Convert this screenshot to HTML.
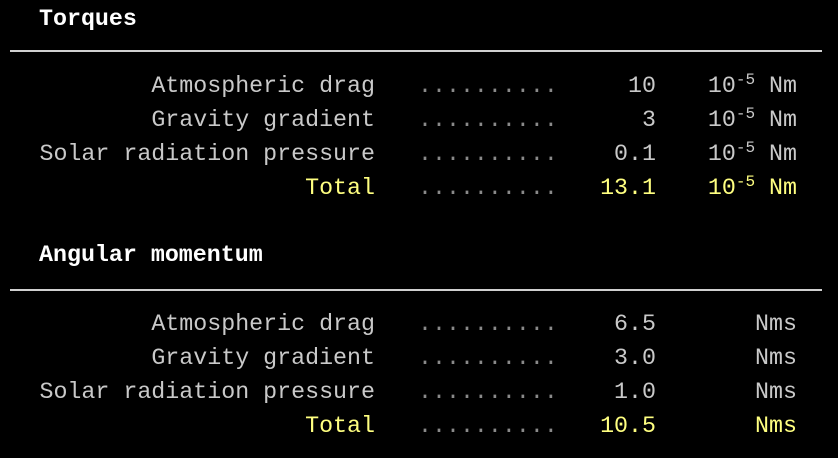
<!DOCTYPE html>
<html><head><meta charset="utf-8">
<style>
html,body{margin:0;padding:0;background:#000;}
#root{position:relative;width:838px;height:458px;background:#000;overflow:hidden;font-family:"Liberation Mono",monospace;font-size:23.3px;color:#c9c9c9;}
.t{position:absolute;white-space:pre;line-height:28px;}
.title{color:#fff;font-weight:bold;}
.rule{position:absolute;left:10px;width:812px;height:2px;background:#d0d0d0;}
.r{text-align:right;}
.dots{color:#8a8a8a;}
.y{color:#ffff80;}
sup{font-size:16px;vertical-align:0;position:relative;top:-8px;}
</style></head>
<body>
<div id="root">
<div class="t title" style="left:39px;top:5px">Torques</div>
<div class="rule" style="top:50px"></div>
<div class="t title" style="left:39px;top:241px">Angular momentum</div>
<div class="rule" style="top:289px"></div>
</div>
<script>
const torqueLabels=["Atmospheric drag","Gravity gradient","Solar radiation pressure","Total"];
const torqueValues=["10","3","0.1","13.1"];
const torqueUnit="Nm";
const momentumLabels=["Atmospheric drag","Gravity gradient","Solar radiation pressure","Total"];
const momentumValues=["6.5","3.0","1.0","10.5"];
const momentumUnit="Nms";
const totalFlags=[false,false,false,true];

const root=document.getElementById('root');
function mk(txt,left,width,top,cls,name){
  const d=document.createElement('div');
  d.className='t '+cls;
  d.style.left=left+'px';d.style.width=width+'px';d.style.top=top+'px';
  d.innerHTML=txt;
  
  
  root.appendChild(d);
}
function block(labels,values,unit,pow,y0,prefix){
  labels.forEach((lab,i)=>{
    const top=y0+i*34;
    const y=totalFlags[i]?' y':'';
    mk(lab,0,375,top,'r'+y,prefix+'-label');
    mk('..........',418,140,top,'dots',prefix+'-leader');
    mk(values[i],500,156,top,'r'+y,prefix+'-value');
    const u=pow?'10<sup>-5</sup> '+unit:unit;
    mk(u,600,197,top,'r'+y,prefix+'-unit');
  });
}
block(torqueLabels,torqueValues,torqueUnit,true,72,'torque-row');
block(momentumLabels,momentumValues,momentumUnit,false,310,'momentum-row');
</script>
</body></html>
